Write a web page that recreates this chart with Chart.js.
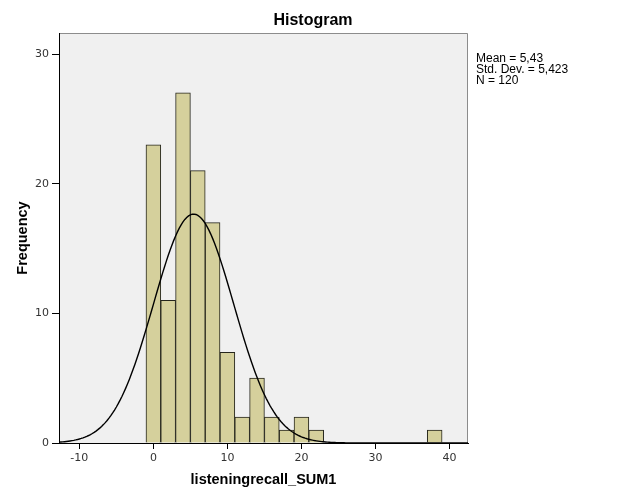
<!DOCTYPE html>
<html>
<head>
<meta charset="utf-8">
<script src="https://cdn.jsdelivr.net/npm/chart.js@4/dist/chart.umd.min.js"></script>
<style>
  html, body { margin: 0; padding: 0; background: #fff; }
  #wrap { width: 626px; height: 501px; position: relative; }
</style>
</head>
<body>
<div id="wrap"><canvas id="myChart" width="626" height="501"></canvas></div>
<script>
// histogram bins (width 2), centres and counts
const binCenters = [0, 2, 4, 6, 8, 10, 12, 14, 16, 18, 20, 22, 24, 26, 28, 30, 32, 34, 36, 38];
const counts = [23, 11, 27, 21, 17, 7, 2, 5, 2, 1, 2, 1, 0, 0, 0, 0, 0, 0, 0, 1];
const binWidth = 2;

// summary stats printed next to the chart
const mean = 5.43;
const stdDev = 5.423;
const n = 120;
const statsLines = ["Mean = 5,43", "Std. Dev. = 5,423", "N = 120"];

const xTicks = [-10, 0, 10, 20, 30, 40];
const yTicks = [0, 10, 20, 30];

const xMin = -12.75;
const xMax = 42.5;
const yMax = 31.62;

// bars from the bin arrays
const barData = binCenters.map((c, i) => ({ x: c, y: counts[i] }));

// fitted normal curve (scaled to counts) from mean / sd
const curveData = [];
for (let x = xMin; x <= xMax + 0.001; x += 0.25) {
  const z = (x - mean) / stdDev;
  const y = (n * binWidth) / (stdDev * Math.sqrt(2 * Math.PI)) * Math.exp(-0.5 * z * z);
  curveData.push({ x: x, y: y });
}

const plotBg = {
  id: "plotBg",
  beforeDraw(chart) {
    const { ctx, chartArea: a } = chart;
    ctx.save();
    ctx.fillStyle = "#fff";
    ctx.fillRect(0, 0, chart.width, chart.height);
    ctx.fillStyle = "#f0f0f0";
    ctx.fillRect(a.left, a.top, a.right - a.left, a.bottom - a.top);
    ctx.strokeStyle = "#8c8c8c";
    ctx.lineWidth = 1;
    ctx.beginPath();
    ctx.moveTo(a.left, a.top + 0.5);
    ctx.lineTo(a.right - 0.5, a.top + 0.5);
    ctx.lineTo(a.right - 0.5, a.bottom);
    ctx.stroke();
    ctx.restore();
  },
  afterDraw(chart) {
    const { ctx } = chart;
    ctx.save();
    ctx.fillStyle = "#000";
    ctx.font = "bold 16px 'Liberation Sans', Arial, sans-serif";
    ctx.textAlign = "center";
    ctx.textBaseline = "middle";
    ctx.fillText("Histogram", 313, 21);
    ctx.font = "12px 'Liberation Sans', Arial, sans-serif";
    ctx.textAlign = "left";
    statsLines.forEach((t, i) => {
      ctx.fillText(t, 476, 59 + i * 11);
    });
    ctx.restore();
  },
};

const tickFont = { family: "'DejaVu Sans', sans-serif", size: 11 };
const axisTitleFont = { family: "'Liberation Sans', Arial, sans-serif", size: 14.5, weight: "bold" };

const config = {
  type: "bar",
  data: {
    datasets: [
      {
        type: "line",
        data: curveData,
        borderColor: "#000",
        borderWidth: 1.4,
        pointRadius: 0,
        tension: 0,
        fill: false,
        order: 0,
      },
      {
        type: "bar",
        data: barData,
        backgroundColor: "#d5d09c",
        borderColor: "#25251c",
        borderWidth: 1,
        barPercentage: 1,
        categoryPercentage: 1,
        order: 1,
      },
    ],
  },
  options: {
    responsive: false,
    animation: false,
    layout: { padding: { top: 33, right: 158, left: 0, bottom: 0 } },
    plugins: {
      legend: { display: false },
      tooltip: { enabled: false },
      title: { display: false },
    },
    scales: {
      x: {
        type: "linear",
        min: xMin,
        max: xMax,
        offset: false,
        afterFit(s) { s.height = 58; },
        afterBuildTicks(s) { s.ticks = xTicks.map((v) => ({ value: v })); },
        ticks: { font: tickFont, color: "#333", padding: 3, maxRotation: 0, includeBounds: false },
        grid: { display: true, offset: false, drawOnChartArea: false, drawTicks: true, tickLength: 6, color: "#000" },
        border: { display: true, color: "#000", width: 1 },
        title: { display: true, text: "listeningrecall_SUM1", font: axisTitleFont, color: "#000", padding: { top: 0, bottom: 12 } },
      },
      y: {
        min: 0,
        max: yMax,
        afterFit(s) { s.width = 59; },
        afterBuildTicks(s) { s.ticks = yTicks.map((v) => ({ value: v })); },
        ticks: { font: tickFont, color: "#333", padding: 3, includeBounds: false },
        grid: { display: true, offset: false, drawOnChartArea: false, drawTicks: true, tickLength: 7, color: "#000" },
        border: { display: true, color: "#000", width: 1 },
        title: { display: true, text: "Frequency", font: axisTitleFont, color: "#000", padding: { top: 14, bottom: 0 } },
      },
    },
  },
  plugins: [plotBg],
};

let myChart = new Chart(document.getElementById("myChart"), config);
</script>
</body>
</html>
